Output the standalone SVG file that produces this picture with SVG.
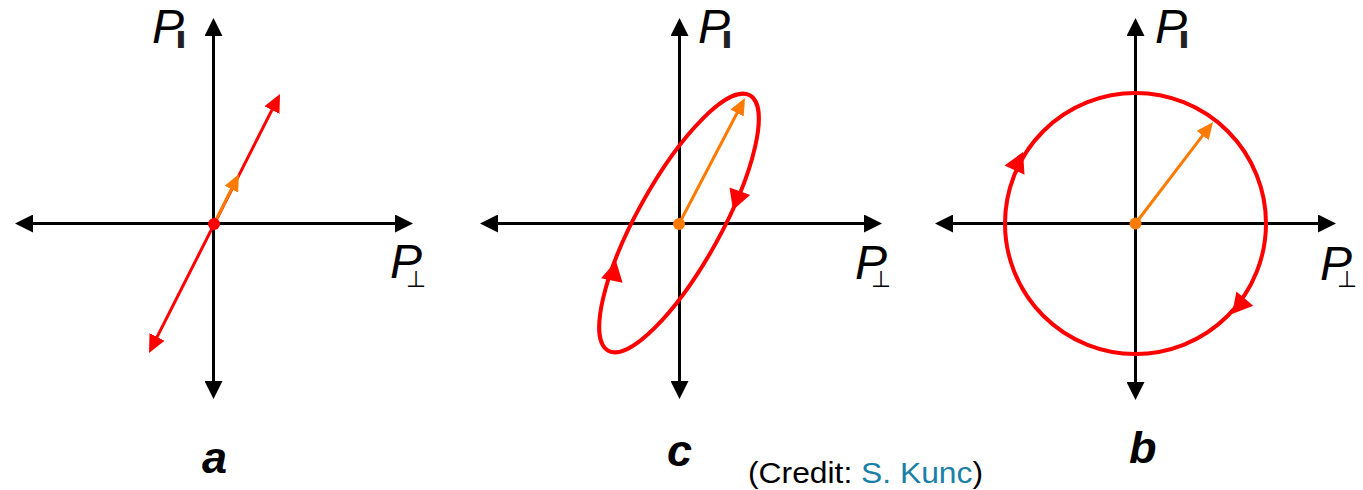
<svg xmlns="http://www.w3.org/2000/svg" width="1363" height="490" viewBox="0 0 1363 490">
<style>
.axis{stroke:#000;stroke-width:3;fill:none}
.red{stroke:#ff0000;fill:none}
.org{stroke:#ff7a00;stroke-width:3;fill:none}
.pl{font-family:"Liberation Sans",Arial,sans-serif;font-style:italic;font-size:48px;fill:#000}
.bar{font-family:"Liberation Sans",Arial,sans-serif;font-style:normal;font-weight:bold;font-size:28px;fill:#222;stroke:#222;stroke-width:2}
.perp{font-family:"DejaVu Sans",sans-serif;font-style:normal;font-size:23px;fill:#000}
.lab{font-family:"Liberation Sans",Arial,sans-serif;font-style:italic;font-weight:bold;font-size:45px;fill:#000}
.credit{font-family:"Liberation Sans",Arial,sans-serif;font-size:29px;fill:#000}
.rh{fill:#ff0000}
</style>
<defs>
<marker id="ahK" markerUnits="userSpaceOnUse" markerWidth="18" markerHeight="18" refX="14" refY="9" orient="auto-start-reverse"><path d="M0,0 L18,9 L0,18 Z" fill="#000"/></marker>
<marker id="ahR" markerUnits="userSpaceOnUse" markerWidth="18" markerHeight="17" refX="14" refY="8.5" orient="auto-start-reverse"><path d="M0,0 L18,8.5 L0,17 Z" fill="#ff0000"/></marker>
<marker id="ahO" markerUnits="userSpaceOnUse" markerWidth="17" markerHeight="15" refX="13" refY="7.5" orient="auto"><path d="M0,0 L17,7.5 L0,15 Z" fill="#ff7a00"/></marker>
</defs>
<g id="connectors">
<line class="axis" x1="19" y1="223.5" x2="409" y2="223.5" marker-start="url(#ahK)" marker-end="url(#ahK)"/>
<line class="axis" x1="213.5" y1="22" x2="213.5" y2="395" marker-start="url(#ahK)" marker-end="url(#ahK)"/>
<line class="axis" x1="484" y1="223.5" x2="878" y2="223.5" marker-start="url(#ahK)" marker-end="url(#ahK)"/>
<line class="axis" x1="679.5" y1="22" x2="679.5" y2="395" marker-start="url(#ahK)" marker-end="url(#ahK)"/>
<line class="axis" x1="939" y1="223.5" x2="1332" y2="223.5" marker-start="url(#ahK)" marker-end="url(#ahK)"/>
<line class="axis" x1="1135.5" y1="22" x2="1135.5" y2="396" marker-start="url(#ahK)" marker-end="url(#ahK)"/>
</g>
<g id="panel-a">
<line class="red" stroke-width="3" x1="150.8" y1="349.4" x2="278.2" y2="97.6" marker-start="url(#ahR)" marker-end="url(#ahR)"/>
<line class="org" x1="214" y1="224" x2="237.2" y2="177.6" marker-end="url(#ahO)"/>
<circle cx="214" cy="224" r="6" fill="#ff0000"/>
<text class="pl" x="152" y="43">P<tspan class="bar" dx="-7" dy="4">ı</tspan></text>
<text class="pl" x="390" y="278">P<tspan class="perp" dx="-16" dy="9">⊥</tspan></text>
<text class="lab" x="202" y="473">a</text>
</g>
<g id="panel-c">
<ellipse class="red" stroke-width="4" cx="679" cy="223" rx="146" ry="42" transform="rotate(-61 679 223)"/>
<polygon class="rh" points="0,0 -20,-11 -20,11" transform="translate(733 210) rotate(110)"/>
<polygon class="rh" points="0,0 -20,-11 -20,11" transform="translate(616 261) rotate(-78)"/>
<line class="org" x1="679" y1="224" x2="743.1" y2="101.5" marker-end="url(#ahO)"/>
<circle cx="679" cy="224" r="6" fill="#ff7a00"/>
<text class="pl" x="698" y="43">P<tspan class="bar" dx="-7" dy="4">ı</tspan></text>
<text class="pl" x="855" y="279">P<tspan class="perp" dx="-16" dy="8">⊥</tspan></text>
<text class="lab" x="667" y="466">c</text>
</g>
<g id="panel-b">
<circle class="red" stroke-width="4" cx="1135.5" cy="223.5" r="130.5"/>
<polygon class="rh" points="0,0 -20,-11 -20,11" transform="translate(1023 152) rotate(-65)"/>
<polygon class="rh" points="0,0 -20,-11 -20,11" transform="translate(1232 314) rotate(130)"/>
<line class="org" x1="1135.5" y1="223.5" x2="1210.6" y2="125.2" marker-end="url(#ahO)"/>
<circle cx="1135.5" cy="223.5" r="6" fill="#ff7a00"/>
<text class="pl" x="1155" y="43">P<tspan class="bar" dx="-7" dy="4">ı</tspan></text>
<text class="pl" x="1320" y="280">P<tspan class="perp" dx="-15" dy="7">⊥</tspan></text>
<text class="lab" x="1129" y="463">b</text>
</g>
<g id="credit">
<text class="credit" x="748" y="483" textLength="235" lengthAdjust="spacingAndGlyphs">(Credit: <tspan fill="#1a80a8">S. Kunc</tspan>)</text>
</g>
</svg>
